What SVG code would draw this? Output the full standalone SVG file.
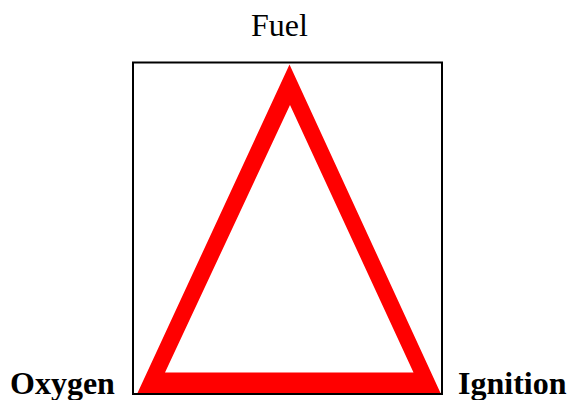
<svg xmlns="http://www.w3.org/2000/svg" width="570" height="400" viewBox="0 0 570 400">
<style>
.lbl{font-family:"Liberation Serif","Times New Roman",serif;font-size:32px;fill:#000}
.b{font-weight:bold}
</style>
<rect width="570" height="400" fill="#fff"/>
<g id="frame"><rect x="133" y="62.5" width="309" height="331.5" fill="none" stroke="#000" stroke-width="2"/></g>
<g id="triangle"><path d="M289.5,64.5 L137.5,393 L440.5,393 Z M290,105 L165,372.5 L413.5,372.5 Z" fill="#f00" fill-rule="evenodd"/></g>
<g id="fuel"><text class="lbl" x="279.5" y="36" text-anchor="middle">Fuel</text></g>
<g id="oxygen"><text class="lbl b" x="10" y="394">Oxygen</text></g>
<g id="ignition"><text class="lbl b" x="458" y="394">Ignition</text></g>
</svg>
